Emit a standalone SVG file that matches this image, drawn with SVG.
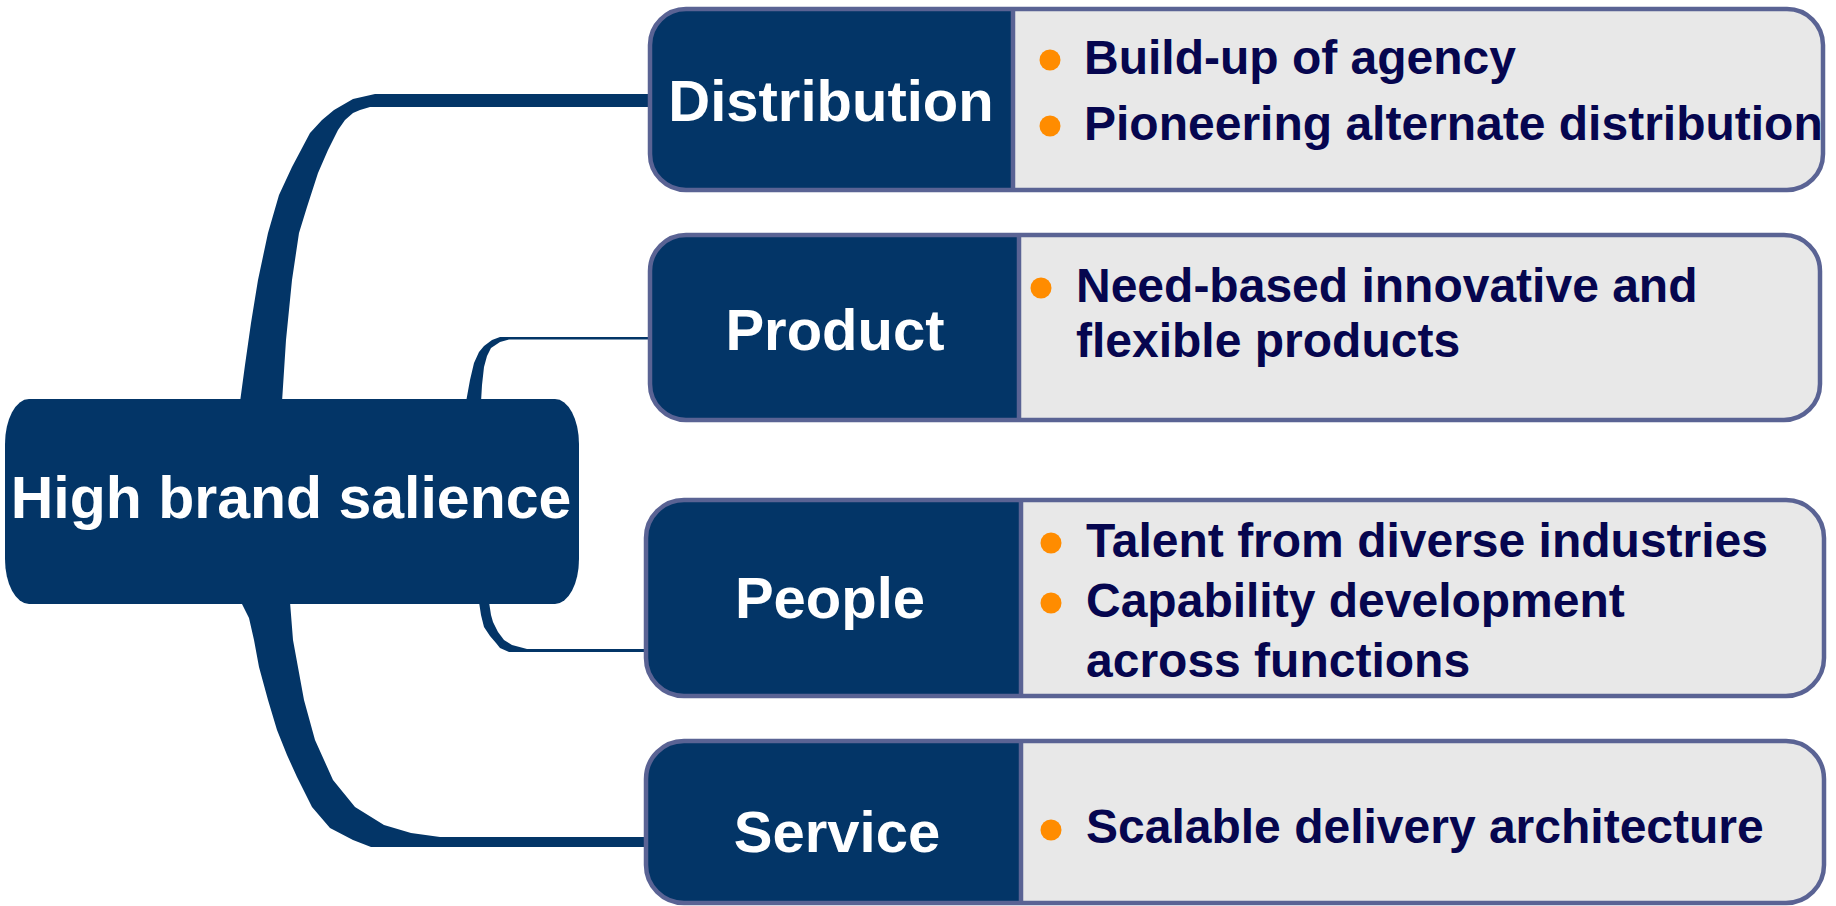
<svg xmlns="http://www.w3.org/2000/svg" width="1836" height="906" viewBox="0 0 1836 906">
  <style>
    .navy { fill: #033567; }
    .panel { fill: #e8e8e8; }
    .frame { fill: none; stroke: #5a6394; stroke-width: 4.5; }
    .divider { stroke: #5a6394; stroke-width: 4.5; }
    .label { font-family: "Liberation Sans", Arial, sans-serif; font-weight: bold; font-size: 58px; fill: #ffffff; text-anchor: middle; }
    .core { font-size: 59px; }
    .item { font-family: "Liberation Sans", Arial, sans-serif; font-weight: bold; font-size: 48px; fill: #06064f; }
    .dot { fill: #ff8c00; }
  </style>

  <rect width="1836" height="906" fill="#ffffff"/>

  <!-- branches from the central node -->
  <g id="connectors" class="navy">
    <polygon points="240,402 245,365 251,323 258,280 268,233 279,195 292,167 310,133 322,120 334,110 353,99 375,94 652,94 652,107 370,107 360,110 353,113 345,120 338,130 328,150 318,173 307,207 299,233 292,280 286,340 282,402"/>
    <polygon points="466,402 470,380 474,363 479,352 484,346 492,340 500,337 652,337 652,339.5 509,339.5 500,342 491,348 487,356 484,367 482,385 481,402"/>
    <polygon points="489,602 491,615 493,622 498,632 504,640 512,645 527,649 648,649 648,652 509,652 500,648 496,643 490,636 484,627 481,615 479,602"/>
    <polygon points="241,602 249,618 254,640 259,667 268,700 277,730 287,755 297,777 312,807 330,828 353,840 371,847 648,847 648,837 440,837 411,833 384,825 355,807 333,780 315,740 304,700 293,640 290,602"/>
  </g>

  <!-- central node -->
  <g id="node-core">
    <rect class="navy" x="5" y="399" width="574" height="205" rx="24" ry="45"/>
    <text class="label core" x="291" y="518">High brand salience</text>
  </g>

  <g id="node-distribution">
    <rect class="panel" x="650" y="9" width="1173" height="181" rx="36"/>
    <path class="navy" d="M686,9 H1013 V190 H686 A36,36 0 0 1 650,154 V45 A36,36 0 0 1 686,9 Z"/>
    <line class="divider" x1="1013" y1="9" x2="1013" y2="190"/>
    <rect class="frame" x="650" y="9" width="1173" height="181" rx="36"/>
    <text class="label" x="831" y="121">Distribution</text>
    <circle class="dot" cx="1050" cy="60" r="10.5"/>
    <text class="item" x="1084" y="74">Build-up of agency</text>
    <circle class="dot" cx="1050" cy="126" r="10.5"/>
    <text class="item" x="1084" y="140">Pioneering alternate distribution</text>
  </g>

  <g id="node-product">
    <rect class="panel" x="650" y="235" width="1170" height="185" rx="36"/>
    <path class="navy" d="M686,235 H1019 V420 H686 A36,36 0 0 1 650,384 V271 A36,36 0 0 1 686,235 Z"/>
    <line class="divider" x1="1019" y1="235" x2="1019" y2="420"/>
    <rect class="frame" x="650" y="235" width="1170" height="185" rx="36"/>
    <text class="label" x="835" y="350">Product</text>
    <circle class="dot" cx="1041" cy="288" r="10.5"/>
    <text class="item" x="1076" y="302">Need-based innovative and</text>
    <text class="item" x="1076" y="357">flexible products</text>
  </g>

  <g id="node-people">
    <rect class="panel" x="646" y="500" width="1178" height="196" rx="38"/>
    <path class="navy" d="M684,500 H1021 V696 H684 A38,38 0 0 1 646,658 V538 A38,38 0 0 1 684,500 Z"/>
    <line class="divider" x1="1021" y1="500" x2="1021" y2="696"/>
    <rect class="frame" x="646" y="500" width="1178" height="196" rx="38"/>
    <text class="label" x="830" y="618">People</text>
    <circle class="dot" cx="1051" cy="543" r="10.5"/>
    <text class="item" x="1086" y="557">Talent from diverse industries</text>
    <circle class="dot" cx="1051" cy="603" r="10.5"/>
    <text class="item" x="1086" y="617">Capability development</text>
    <text class="item" x="1086" y="677">across functions</text>
  </g>

  <g id="node-service">
    <rect class="panel" x="646" y="741" width="1178" height="162" rx="38"/>
    <path class="navy" d="M684,741 H1021 V903 H684 A38,38 0 0 1 646,865 V779 A38,38 0 0 1 684,741 Z"/>
    <line class="divider" x1="1021" y1="741" x2="1021" y2="903"/>
    <rect class="frame" x="646" y="741" width="1178" height="162" rx="38"/>
    <text class="label" x="837" y="852">Service</text>
    <circle class="dot" cx="1051" cy="830" r="10.5"/>
    <text class="item" x="1086" y="843">Scalable delivery architecture</text>
  </g>
</svg>
